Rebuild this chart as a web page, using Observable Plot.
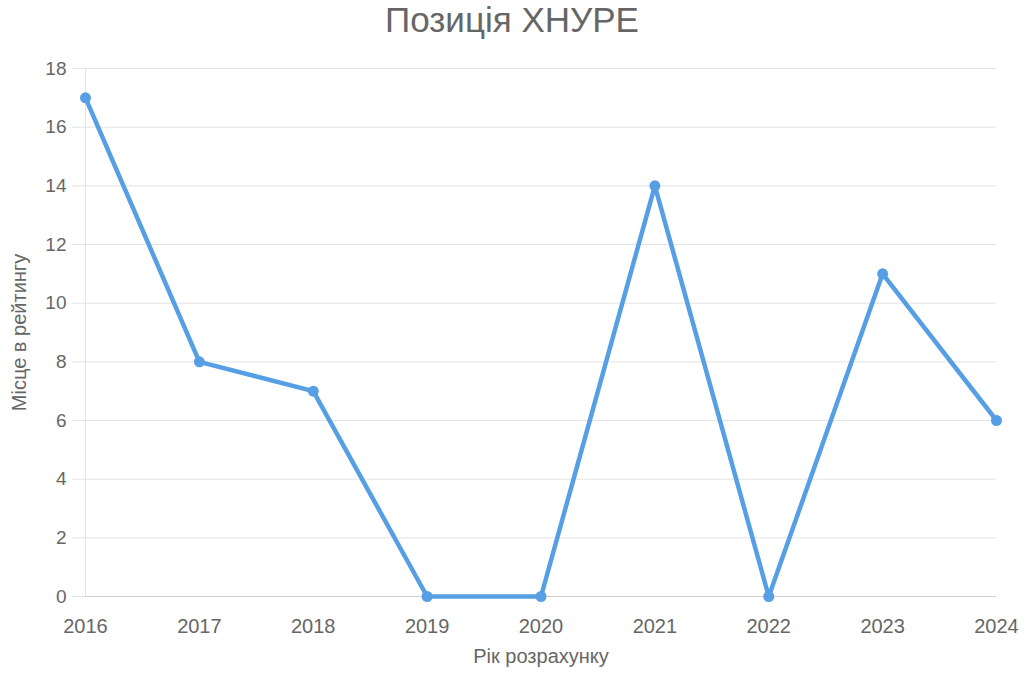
<!DOCTYPE html>
<html><head><meta charset="utf-8">
<script src="https://cdn.jsdelivr.net/npm/d3@7"></script>
<script src="https://cdn.jsdelivr.net/npm/@observablehq/plot@0.6"></script>
<style>
body{margin:0;background:#fff;font-family:"Liberation Sans",Arial,sans-serif;}
#title{height:44px;line-height:40px;text-align:center;font-size:35px;color:#666;overflow:hidden;}
svg{display:block}
</style></head>
<body>
<div id="title">Позиція ХНУРЕ</div>
<div id="chart"></div>
<script>
const years = [2016, 2017, 2018, 2019, 2020, 2021, 2022, 2023, 2024];
const places = [17, 8, 7, 0, 0, 14, 0, 11, 6];
const yTicks = [0, 2, 4, 6, 8, 10, 12, 14, 16, 18];
const yLabel = "Місце в рейтингу";
const xLabel = "Рік розрахунку";
const data = years.map((y, i) => ({year: y, place: places[i]}));

const chart = Plot.plot({
  width: 1024,
  height: 639,
  marginTop: 24,
  marginBottom: 87,
  marginLeft: 85,
  marginRight: 28,
  style: {fontFamily: '"Liberation Sans", Arial, sans-serif', fontSize: "19px", color: "#666", background: "#fff"},
  x: {type: "linear", domain: [2016, 2024]},
  y: {domain: [0, 18]},
  marks: [
    Plot.gridY(yTicks, {stroke: "#e3e3e3", strokeOpacity: 1}),
    Plot.axisY(yTicks, {tickSize: 13, tickPadding: 6, stroke: "#e3e3e3", fill: "#666", label: null, fontSize: 19}),
    Plot.ruleX([2016], {stroke: "#e3e3e3"}),
    Plot.ruleY([0], {stroke: "#cfcfcf"}),
    Plot.axisX(years, {tickSize: 0, tickPadding: 22, tickFormat: d => String(d), label: null, fill: "#666", fontSize: 20}),
    Plot.line(data, {x: "year", y: "place", stroke: "#579fe4", strokeWidth: 4.5, strokeLinejoin: "round"}),
    Plot.dot(data, {x: "year", y: "place", r: 5.5, fill: "#579fe4"}),
    Plot.text([yLabel], {frameAnchor: "left", textAnchor: "middle", dx: -66, rotate: -90, fontSize: 20, fill: "#666"}),
    Plot.text([xLabel], {frameAnchor: "bottom", dy: 66, fontSize: 20, fill: "#666"})
  ]
});
document.getElementById("chart").appendChild(chart);
</script>
</body></html>
